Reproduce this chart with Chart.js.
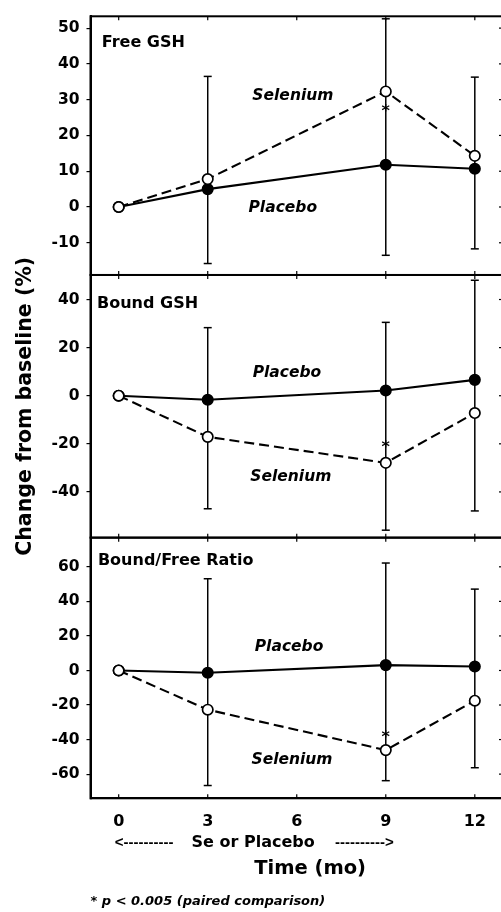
<!DOCTYPE html>
<html>
<head>
<meta charset="utf-8">
<script src="https://cdn.jsdelivr.net/npm/chart.js@4.4.1/dist/chart.umd.min.js"></script>
<style>
  html, body { margin: 0; padding: 0; background: #fff; overflow: hidden; }
  #wrap { width: 501px; height: 912px; overflow: hidden; }
  canvas { display: block; }
</style>
</head>
<body>
<div id="wrap"><canvas id="chart" width="512" height="912"></canvas></div>
<script>
const months = [0, 3, 9, 12];
const xTicks = [0, 3, 6, 9, 12];

/* Free GSH */
const freeSelenium = [0, 7.8, 32.3, 14.3];
const freePlacebo = [0, 5.0, 11.8, 10.7];
const freeBarTop = [null, 36.5, 52.6, 36.3];
const freeBarBottom = [null, -15.8, -13.5, -11.7];
const freeTicks = [-10, 0, 10, 20, 30, 40, 50];

/* Bound GSH */
const boundPlacebo = [0, -1.7, 2.2, 6.6];
const boundSelenium = [0, -17.1, -27.9, -7.2];
const boundBarTop = [null, 28.3, 30.5, 48.0];
const boundBarBottom = [null, -47.0, -55.9, -47.9];
const boundTicks = [-40, -20, 0, 20, 40];

/* Bound/Free ratio */
const ratioPlacebo = [0, -1.3, 3.1, 2.3];
const ratioSelenium = [0, -22.7, -46.1, -17.5];
const ratioBarTop = [null, 53.1, 62.2, 47.1];
const ratioBarBottom = [null, -66.6, -63.8, -56.3];
const ratioTicks = [-60, -40, -20, 0, 20, 40, 60];

/* significant points (month 9) */
const sigMonth = 9;

const FONT = "'DejaVu Sans', sans-serif";
const ARIAL = "'Liberation Sans', Arial, sans-serif";
Chart.defaults.font.family = FONT;
Chart.defaults.color = "#000";

const panels = [
  { axis: "yFree", top: freeBarTop, bottom: freeBarBottom, title: "Free GSH", titleAt: [-0.57, 46],
    labels: [["Selenium", 5.87, 31.1], ["Placebo", 5.53, -0.4]], star: 27.6 },
  { axis: "yBound", top: boundBarTop, bottom: boundBarBottom, title: "Bound GSH", titleAt: [-0.73, 38.2],
    labels: [["Placebo", 5.67, 9.6], ["Selenium", 5.8, -33.7]], star: -20 },
  { axis: "yRatio", top: ratioBarTop, bottom: ratioBarBottom, title: "Bound/Free Ratio", titleAt: [-0.7, 63.4],
    labels: [["Placebo", 5.74, 13.8], ["Selenium", 5.84, -51.9]], star: -36.5 },
];

function series(values, axis, placebo) {
  return {
    data: months.map((m, i) => ({ x: m, y: values[i] })),
    yAxisID: axis,
    borderColor: "#000",
    borderWidth: 2.1,
    borderDash: placebo ? [] : [10, 5],
    pointRadius: 5.2,
    pointBorderWidth: 1.7,
    pointBorderColor: "#000",
    pointBackgroundColor: placebo ? "#000" : "#fff",
    order: placebo ? 1 : 0,
    tension: 0,
  };
}

function yAxis(min, max, ticks, weight, stackWeight) {
  return {
    type: "linear",
    position: "left",
    stack: "panels",
    stackWeight: stackWeight,
    weight: weight,
    min: min,
    max: max,
    afterBuildTicks: (s) => { s.ticks = ticks.map((v) => ({ value: v })); },
    afterFit: (s) => { s.width = 90.5; },
    ticks: { font: { size: 15.5, weight: "bold" }, color: "#000", padding: 7, autoSkip: false },
    grid: { drawOnChartArea: false, tickLength: 4, color: "#000", lineWidth: 1.2 },
    border: { color: "#000", width: 2 },
  };
}

function line(ctx, x1, y1, x2, y2) {
  ctx.beginPath();
  ctx.moveTo(x1, y1);
  ctx.lineTo(x2, y2);
  ctx.stroke();
}

/* error bars behind the points */
const errorBars = {
  id: "errorBars",
  beforeDatasetsDraw(chart) {
    const ctx = chart.ctx;
    const x = chart.scales.x;
    ctx.save();
    ctx.strokeStyle = "#000";
    ctx.lineWidth = 1.5;
    panels.forEach((p) => {
      const y = chart.scales[p.axis];
      months.forEach((m, i) => {
        if (p.top[i] == null) return;
        const px = x.getPixelForValue(m);
        const y1 = y.getPixelForValue(p.top[i]);
        const y2 = y.getPixelForValue(p.bottom[i]);
        line(ctx, px, y1, px, y2);
        line(ctx, px - 4, y1, px + 4, y1);
        line(ctx, px - 4, y2, px + 4, y2);
      });
    });
    ctx.restore();
  },
};

/* frames, inner ticks and all the texts */
const decorations = {
  id: "decorations",
  afterDraw(chart) {
    const ctx = chart.ctx;
    const a = chart.chartArea;
    const x = chart.scales.x;
    ctx.save();
    ctx.strokeStyle = "#000";
    ctx.fillStyle = "#000";
    panels.forEach((p) => {
      const s = chart.scales[p.axis];
      ctx.lineWidth = 2;
      ctx.strokeRect(a.left, s.top, a.right - a.left, s.bottom - s.top);
      ctx.lineWidth = 1.2;
      xTicks.forEach((v) => {
        const px = x.getPixelForValue(v);
        line(ctx, px, s.top, px, s.top + 4);
        line(ctx, px, s.bottom - 4, px, s.bottom);
      });
      s.ticks.forEach((t) => {
        const py = s.getPixelForValue(t.value);
        line(ctx, a.right - 4, py, a.right, py);
      });

      ctx.font = "bold 16px " + FONT;
      ctx.textAlign = "left";
      ctx.textBaseline = "middle";
      ctx.fillText(p.title, x.getPixelForValue(p.titleAt[0]), s.getPixelForValue(p.titleAt[1]));

      ctx.font = "italic bold 15.5px " + FONT;
      ctx.textAlign = "center";
      p.labels.forEach(([text, mx, my]) => {
        ctx.fillText(text, x.getPixelForValue(mx), s.getPixelForValue(my));
      });

      ctx.font = "bold 16px " + FONT;
      ctx.fillText("*", x.getPixelForValue(sigMonth), s.getPixelForValue(p.star) + 4);
    });

    /* "<--- Se or Placebo --->" spans months 0 to 9 */
    const y0 = 843;
    ctx.textBaseline = "middle";
    ctx.font = "bold 15px " + ARIAL;
    ctx.textAlign = "left";
    ctx.fillText("<----------", x.getPixelForValue(0) - 4, y0);
    ctx.textAlign = "right";
    ctx.fillText("---------->", x.getPixelForValue(9) + 8, y0);
    ctx.font = "bold 16px " + FONT;
    ctx.textAlign = "center";
    ctx.fillText("Se or Placebo", x.getPixelForValue(4.53), y0);

    ctx.font = "bold 19.5px " + FONT;
    ctx.fillText("Time (mo)", x.getPixelForValue(6.45), 869);
    ctx.font = "italic bold 13px " + FONT;
    ctx.textAlign = "left";
    ctx.fillText("* p < 0.005 (paired comparison)", a.left, 902);
    ctx.restore();
  },
};

const yRatio = yAxis(-74, 76.9, ratioTicks, 1, 262);
const yBound = yAxis(-59, 50.2, boundTicks, 2, 264);
yBound.title = {
  display: true,
  text: "Change from baseline (%)",
  font: { size: 20.5, weight: "bold" },
  color: "#000",
  padding: { top: 13, bottom: 0 },
};
const yFree = yAxis(-19, 53.3, freeTicks, 3, 260);

new Chart(document.getElementById("chart"), {
  type: "line",
  data: {
    datasets: [
      series(freeSelenium, "yFree", false),
      series(freePlacebo, "yFree", true),
      series(boundSelenium, "yBound", false),
      series(boundPlacebo, "yBound", true),
      series(ratioSelenium, "yRatio", false),
      series(ratioPlacebo, "yRatio", true),
    ],
  },
  options: {
    responsive: false,
    animation: false,
    layout: { padding: { top: 13, right: 9, bottom: 0, left: 0 } },
    plugins: { legend: { display: false }, tooltip: { enabled: false } },
    scales: {
      x: {
        type: "linear",
        min: -0.95,
        max: 12.95,
        afterBuildTicks: (s) => { s.ticks = xTicks.map((v) => ({ value: v })); },
        afterFit: (s) => { s.height = 113.7; },
        ticks: { font: { size: 16, weight: "bold" }, color: "#000", padding: 14, autoSkip: false, maxRotation: 0 },
        grid: { drawOnChartArea: false, drawTicks: false },
        border: { color: "#000", width: 2 },
      },
      yRatio: yRatio,
      yBound: yBound,
      yFree: yFree,
    },
  },
  plugins: [errorBars, decorations],
});
</script>
</body>
</html>
